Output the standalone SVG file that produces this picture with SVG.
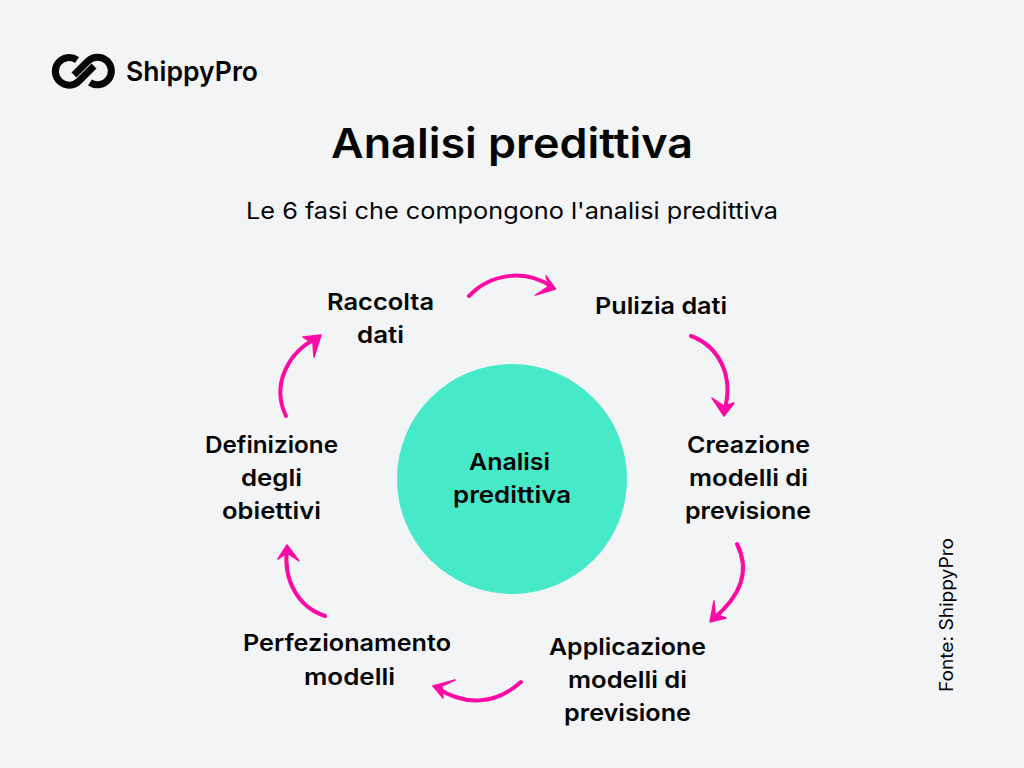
<svg xmlns="http://www.w3.org/2000/svg" width="1024" height="768" viewBox="0 0 1024 768">
<style>
text{font-family:"Inter","Noto Sans","Liberation Sans",sans-serif;fill:#050505;text-anchor:middle}
.n{font-size:23px;font-weight:600}
.a{fill:none;stroke:#ff09a5;stroke-width:4;stroke-linecap:round;stroke-linejoin:round}
.h{fill:#ff09a5;stroke:#ff09a5;stroke-width:1.5;stroke-linejoin:round}
</style>
<rect width="1024" height="768" fill="#f3f4f6"/>
<g id="logo" fill="none" stroke="#050505" stroke-width="7">
<path d="M77 60A13.800 13.800 0 1 0 79 81L94 66"/>
<path d="M90 82.500A13.800 13.800 0 1 0 88 61L74 75"/>
<text x="192" y="81" textLength="132" lengthAdjust="spacingAndGlyphs" stroke="none" style="font-size:27px;font-weight:600">ShippyPro</text>
</g>
<g id="title"><text x="512" y="158" textLength="362" lengthAdjust="spacingAndGlyphs" style="font-size:41px;font-weight:600">Analisi predittiva</text></g>
<g id="subtitle"><text x="512" y="219" textLength="532" lengthAdjust="spacingAndGlyphs" style="font-size:23px;font-weight:400">Le 6 fasi che compongono l'analisi predittiva</text></g>
<g id="center"><circle cx="512" cy="479" r="115" fill="#46e9c8"/>
<text class="n" x="509.500" y="470" textLength="81" lengthAdjust="spacingAndGlyphs">Analisi</text><text class="n" x="512" y="503" textLength="118" lengthAdjust="spacingAndGlyphs">predittiva</text></g>
<g id="n1"><text class="n" x="380.500" y="310" textLength="107" lengthAdjust="spacingAndGlyphs">Raccolta</text><text class="n" x="380.500" y="343" textLength="47" lengthAdjust="spacingAndGlyphs">dati</text></g>
<g id="n2"><text class="n" x="661" y="314" textLength="132" lengthAdjust="spacingAndGlyphs">Pulizia dati</text></g>
<g id="n3"><text class="n" x="748.500" y="452.500" textLength="123" lengthAdjust="spacingAndGlyphs">Creazione</text><text class="n" x="748.500" y="485.500" textLength="119" lengthAdjust="spacingAndGlyphs">modelli di</text><text class="n" x="748" y="518.500" textLength="126" lengthAdjust="spacingAndGlyphs">previsione</text></g>
<g id="n4"><text class="n" x="627.500" y="655" textLength="157" lengthAdjust="spacingAndGlyphs">Applicazione</text><text class="n" x="627.500" y="688" textLength="119" lengthAdjust="spacingAndGlyphs">modelli di</text><text class="n" x="627.500" y="721" textLength="127" lengthAdjust="spacingAndGlyphs">previsione</text></g>
<g id="n5"><text class="n" x="347" y="651" textLength="208" lengthAdjust="spacingAndGlyphs">Perfezionamento</text><text class="n" x="349.500" y="684.500" textLength="91" lengthAdjust="spacingAndGlyphs">modelli</text></g>
<g id="n6"><text class="n" x="271.500" y="452.500" textLength="133" lengthAdjust="spacingAndGlyphs">Definizione</text><text class="n" x="271.500" y="485.500" textLength="61" lengthAdjust="spacingAndGlyphs">degli</text><text class="n" x="271.500" y="518.500" textLength="99" lengthAdjust="spacingAndGlyphs">obiettivi</text></g>
<g id="source"><text transform="translate(953,615) rotate(-90)" textLength="154" lengthAdjust="spacingAndGlyphs" style="font-size:18px">Fonte: ShippyPro</text></g>
<g id="connectors">
<path class="a" d="M469 296C490 274 525 268 552 287"/><path class="h" d="M546 276L555.500 289L535.500 295L549 286Z"/>
<path class="a" d="M691 336C718 346 735 375 724 412"/><path class="h" d="M712 398L724 416L734 403L724 406Z"/>
<path class="a" d="M737 544C750 570 742 595 713 619"/><path class="h" d="M714 601L710 622L726 618L715 614Z"/>
<path class="a" d="M521 682C495 705 465 706 437 688"/><path class="h" d="M455 680L433 686L443 698L442 686Z"/>
<path class="a" d="M325 616C298 607 283 580 287 549"/><path class="h" d="M278 559L287 545L299 561L287 553Z"/>
<path class="a" d="M286 416C271 385 288 352 317 338"/><path class="h" d="M303 337L321 335L314 357L313 343Z"/>
</g>
</svg>
